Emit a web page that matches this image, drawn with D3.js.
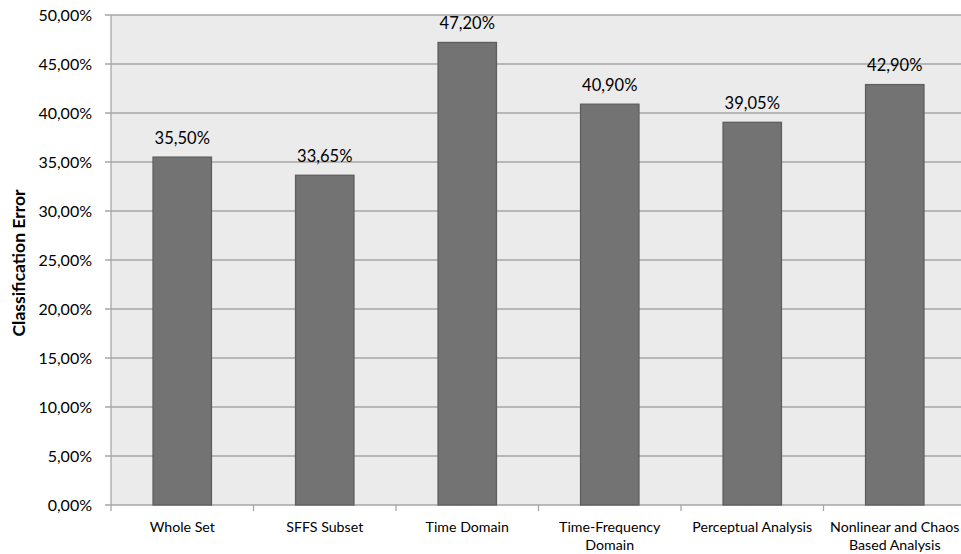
<!DOCTYPE html>
<html>
<head>
<meta charset="utf-8">
<script src="https://cdn.jsdelivr.net/npm/d3@7"></script>
<style>
  html, body { margin: 0; padding: 0; background: #fff; }
  svg { display: block; }
  text { font-family: Lato, "Open Sans", sans-serif; fill: #000; }
</style>
</head>
<body>
<svg id="chart" width="961" height="554"></svg>
<script>
// Classification error per feature set
const categories = [
  ["Whole Set"],
  ["SFFS Subset"],
  ["Time Domain"],
  ["Time-Frequency", "Domain"],
  ["Perceptual Analysis"],
  ["Nonlinear and Chaos", "Based Analysis"]
];
const errorValues = [35.50, 33.65, 47.20, 40.90, 39.05, 42.90];
const yTicks = [0, 5, 10, 15, 20, 25, 30, 35, 40, 45, 50];

const svg = d3.select("#chart");
const margin = { left: 111, top: 15, right: 966, bottom: 505 };

const fmt = v => v.toFixed(2).replace(".", ",") + "%";

const x = d3.scaleBand()
  .domain(d3.range(categories.length))
  .range([margin.left, margin.right])
  .paddingInner(0.59)
  .paddingOuter(0.295);
const step = x.step();
const y = d3.scaleLinear().domain([0, 50]).range([margin.bottom, margin.top]);

// plot background
svg.append("rect")
  .attr("x", margin.left).attr("y", margin.top)
  .attr("width", margin.right - margin.left)
  .attr("height", margin.bottom - margin.top)
  .attr("fill", "#ebebeb");

// horizontal gridlines with left tick stubs
svg.append("g").selectAll("line").data(yTicks).join("line")
  .attr("x1", margin.left - 6).attr("x2", margin.right)
  .attr("y1", d => y(d)).attr("y2", d => y(d))
  .attr("stroke", "#a6a6a6").attr("stroke-width", 1.3);

// y axis line
svg.append("line")
  .attr("x1", margin.left).attr("x2", margin.left)
  .attr("y1", margin.top).attr("y2", margin.bottom)
  .attr("stroke", "#a6a6a6").attr("stroke-width", 1.3);

// category boundary ticks below the axis
const boundaries = d3.range(categories.length + 1).map(i => margin.left + i * step);
svg.append("g").selectAll("line").data(boundaries).join("line")
  .attr("x1", d => d).attr("x2", d => d)
  .attr("y1", margin.bottom).attr("y2", margin.bottom + 6)
  .attr("stroke", "#a6a6a6").attr("stroke-width", 1.3);

// y tick labels
svg.append("g").selectAll("text").data(yTicks).join("text")
  .attr("x", 92).attr("y", d => y(d))
  .attr("dy", "0.35em")
  .attr("text-anchor", "end")
  .attr("font-size", 16)
  .text(d => fmt(d));

// bars
svg.append("g").selectAll("rect").data(errorValues).join("rect")
  .attr("x", (d, i) => x(i))
  .attr("y", d => y(d))
  .attr("width", x.bandwidth())
  .attr("height", d => y(0) - y(d))
  .attr("fill", "#737373")
  .attr("stroke", "#5e5e5e")
  .attr("stroke-width", 1.3);

// value labels
svg.append("g").selectAll("text").data(errorValues).join("text")
  .attr("x", (d, i) => x(i) + x.bandwidth() / 2)
  .attr("y", d => y(d) - 19)
  .attr("dy", "0.35em")
  .attr("text-anchor", "middle")
  .attr("font-size", 16.5)
  .text(d => fmt(d));

// category labels
const catG = svg.append("g").selectAll("text").data(categories).join("text")
  .attr("text-anchor", "middle")
  .attr("font-size", 14.2)
  .attr("transform", (d, i) => `translate(${margin.left + (i + 0.5) * step},527)`);
catG.selectAll("tspan").data(d => d).join("tspan")
  .attr("x", 0)
  .attr("y", (d, j) => j * 18.5)
  .attr("dy", "0.35em")
  .text(d => d);

// y axis title
svg.append("text")
  .attr("transform", `translate(19,263) rotate(-90)`)
  .attr("dy", "0.35em")
  .attr("text-anchor", "middle")
  .attr("font-size", 17.5)
  .attr("font-weight", "bold")
  .text("Classification Error");
</script>
</body>
</html>
